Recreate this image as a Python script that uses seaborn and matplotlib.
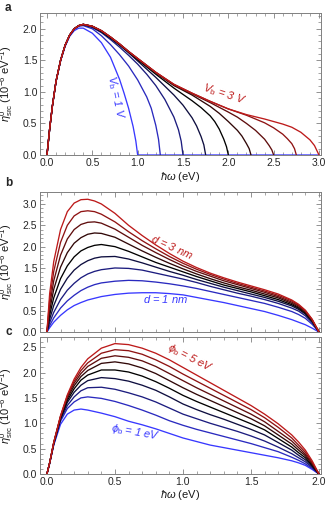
import matplotlib
matplotlib.use("Agg")
import matplotlib.pyplot as plt
import seaborn as sns
from matplotlib.ticker import MultipleLocator
from matplotlib.colors import LinearSegmentedColormap

# ---------------- panel a : bias voltage V_b ----------------
vb_values = [1.0, 1.25, 1.5, 1.75, 2.0, 2.25, 2.5, 2.75, 3.0]

a_x_100 = [0, 0.03, 0.06, 0.1, 0.15, 0.2, 0.25, 0.3, 0.35, 0.4, 0.5, 0.6, 0.7, 0.8, 0.85, 0.9, 0.95, 0.98, 1.0, 3.0]
a_y_100 = [0, 0.42, 0.78, 1.16, 1.49, 1.72, 1.88, 1.97, 2.01, 2.01, 1.93, 1.78, 1.55, 1.2, 0.98, 0.74, 0.45, 0.22, 0, 0]

a_x_125 = [0, 0.03, 0.06, 0.1, 0.15, 0.2, 0.25, 0.3, 0.35, 0.4, 0.5, 0.6, 0.7, 0.8, 0.9, 1.0, 1.1, 1.15, 1.2, 1.23, 1.25]
a_y_125 = [0, 0.42, 0.78, 1.17, 1.5, 1.73, 1.89, 1.99, 2.04, 2.05, 2.0, 1.89, 1.75, 1.59, 1.41, 1.19, 0.92, 0.74, 0.47, 0.25, 0]

a_x_150 = [0, 0.03, 0.06, 0.1, 0.15, 0.2, 0.25, 0.3, 0.35, 0.4, 0.5, 0.6, 0.7, 0.8, 0.9, 1.0, 1.1, 1.2, 1.3, 1.4, 1.45, 1.48, 1.5]
a_y_150 = [0, 0.42, 0.78, 1.17, 1.5, 1.74, 1.9, 2.0, 2.05, 2.06, 2.02, 1.94, 1.83, 1.71, 1.58, 1.44, 1.28, 1.1, 0.88, 0.6, 0.4, 0.22, 0]

a_x_175 = [0, 0.03, 0.06, 0.1, 0.15, 0.2, 0.25, 0.3, 0.35, 0.4, 0.5, 0.6, 0.7, 0.8, 0.9, 1.0, 1.1, 1.2, 1.3, 1.4, 1.5, 1.6, 1.65, 1.7, 1.73, 1.75]
a_y_175 = [0, 0.42, 0.78, 1.17, 1.5, 1.74, 1.9, 2.0, 2.05, 2.07, 2.03, 1.95, 1.85, 1.74, 1.62, 1.49, 1.36, 1.23, 1.09, 0.95, 0.79, 0.59, 0.46, 0.29, 0.16, 0]

a_x_200 = [0, 0.03, 0.06, 0.1, 0.15, 0.2, 0.25, 0.3, 0.35, 0.4, 0.5, 0.6, 0.7, 0.8, 0.9, 1.0, 1.2, 1.4, 1.5, 1.6, 1.7, 1.8, 1.85, 1.9, 1.95, 1.98, 2.0]
a_y_200 = [0, 0.42, 0.78, 1.17, 1.5, 1.74, 1.9, 2.0, 2.05, 2.07, 2.04, 1.96, 1.86, 1.75, 1.63, 1.51, 1.28, 1.06, 0.96, 0.86, 0.75, 0.62, 0.53, 0.41, 0.25, 0.13, 0]

a_x_225 = [0, 0.03, 0.06, 0.1, 0.15, 0.2, 0.25, 0.3, 0.35, 0.4, 0.5, 0.6, 0.7, 0.8, 0.9, 1.0, 1.2, 1.4, 1.6, 1.8, 1.9, 2.0, 2.1, 2.15, 2.2, 2.23, 2.25]
a_y_225 = [0, 0.42, 0.78, 1.17, 1.5, 1.74, 1.9, 2.0, 2.05, 2.07, 2.04, 1.97, 1.87, 1.76, 1.64, 1.52, 1.3, 1.1, 0.95, 0.77, 0.66, 0.53, 0.39, 0.3, 0.18, 0.1, 0]

a_x_250 = [0, 0.03, 0.06, 0.1, 0.15, 0.2, 0.25, 0.3, 0.35, 0.4, 0.5, 0.6, 0.7, 0.8, 0.9, 1.0, 1.2, 1.4, 1.6, 1.8, 2.0, 2.1, 2.2, 2.3, 2.4, 2.45, 2.48, 2.5]
a_y_250 = [0, 0.42, 0.78, 1.17, 1.5, 1.74, 1.9, 2.0, 2.05, 2.07, 2.04, 1.97, 1.87, 1.76, 1.64, 1.53, 1.31, 1.11, 0.97, 0.83, 0.68, 0.6, 0.5, 0.39, 0.25, 0.15, 0.08, 0]

a_x_275 = [0, 0.03, 0.06, 0.1, 0.15, 0.2, 0.25, 0.3, 0.35, 0.4, 0.5, 0.6, 0.7, 0.8, 0.9, 1.0, 1.2, 1.4, 1.6, 1.8, 2.0, 2.2, 2.4, 2.5, 2.6, 2.65, 2.7, 2.73, 2.75]
a_y_275 = [0, 0.42, 0.78, 1.17, 1.5, 1.74, 1.9, 2.0, 2.05, 2.07, 2.04, 1.97, 1.87, 1.76, 1.64, 1.53, 1.31, 1.12, 0.98, 0.85, 0.73, 0.63, 0.51, 0.43, 0.33, 0.26, 0.18, 0.1, 0]

a_x_300 = [0, 0.03, 0.06, 0.1, 0.15, 0.2, 0.25, 0.3, 0.35, 0.4, 0.5, 0.6, 0.7, 0.8, 0.9, 1.0, 1.2, 1.4, 1.6, 1.8, 2.0, 2.2, 2.4, 2.6, 2.7, 2.8, 2.9, 2.95, 3.0]
a_y_300 = [0, 0.42, 0.78, 1.17, 1.5, 1.74, 1.9, 2.0, 2.05, 2.07, 2.04, 1.97, 1.87, 1.76, 1.64, 1.53, 1.31, 1.12, 0.98, 0.85, 0.73, 0.64, 0.57, 0.49, 0.44, 0.36, 0.24, 0.15, 0]

# ---------------- panel b : barrier thickness d ----------------
d_values = [1.0, 1.25, 1.5, 1.75, 2.0, 2.25, 2.5, 2.75, 3.0]
b_x = [0, 0.02, 0.05, 0.1, 0.15, 0.2, 0.25, 0.3, 0.35, 0.4, 0.5, 0.6, 0.7, 0.8, 0.9, 1.0,
       1.1, 1.2, 1.3, 1.4, 1.5, 1.6, 1.7, 1.8, 1.85, 1.9, 1.95, 2.0]
b_y_100 = [0, 0.1, 0.23, 0.39, 0.52, 0.62, 0.69, 0.75, 0.79, 0.83, 0.88, 0.91, 0.92, 0.92, 0.9, 0.87,
           0.81, 0.75, 0.69, 0.62, 0.55, 0.48, 0.39, 0.29, 0.23, 0.17, 0.09, 0]
b_y_125 = [0, 0.15, 0.33, 0.56, 0.73, 0.86, 0.97, 1.05, 1.11, 1.15, 1.19, 1.21, 1.2, 1.17, 1.13, 1.08,
           1.02, 0.95, 0.88, 0.81, 0.74, 0.67, 0.58, 0.48, 0.41, 0.32, 0.18, 0]
b_y_150 = [0, 0.22, 0.46, 0.76, 0.98, 1.14, 1.27, 1.36, 1.42, 1.46, 1.5, 1.49, 1.45, 1.38, 1.31, 1.24,
           1.16, 1.07, 0.99, 0.91, 0.84, 0.76, 0.67, 0.56, 0.49, 0.38, 0.22, 0]
b_y_175 = [0, 0.3, 0.62, 1.0, 1.26, 1.45, 1.58, 1.67, 1.73, 1.76, 1.77, 1.71, 1.62, 1.52, 1.42, 1.33,
           1.23, 1.14, 1.05, 0.97, 0.89, 0.81, 0.72, 0.61, 0.53, 0.42, 0.24, 0]
b_y_200 = [0, 0.4, 0.8, 1.25, 1.55, 1.76, 1.9, 1.98, 2.03, 2.05, 2.0, 1.89, 1.76, 1.63, 1.52, 1.41,
           1.3, 1.2, 1.1, 1.02, 0.94, 0.85, 0.76, 0.64, 0.56, 0.44, 0.26, 0]
b_y_225 = [0, 0.5, 1.0, 1.52, 1.86, 2.08, 2.21, 2.29, 2.32, 2.31, 2.22, 2.06, 1.9, 1.75, 1.61, 1.48,
           1.36, 1.25, 1.15, 1.06, 0.98, 0.89, 0.8, 0.67, 0.58, 0.46, 0.27, 0]
b_y_250 = [0, 0.62, 1.2, 1.8, 2.18, 2.4, 2.52, 2.57, 2.58, 2.55, 2.41, 2.22, 2.03, 1.86, 1.7, 1.55,
           1.42, 1.31, 1.2, 1.11, 1.02, 0.93, 0.83, 0.7, 0.61, 0.48, 0.28, 0]
b_y_275 = [0, 0.75, 1.42, 2.1, 2.5, 2.72, 2.82, 2.84, 2.82, 2.76, 2.58, 2.35, 2.14, 1.95, 1.77, 1.61,
           1.47, 1.35, 1.24, 1.14, 1.05, 0.96, 0.86, 0.73, 0.63, 0.5, 0.29, 0]
b_y_300 = [0, 0.9, 1.65, 2.4, 2.82, 3.02, 3.1, 3.11, 3.07, 3.0, 2.78, 2.5, 2.26, 2.04, 1.84, 1.66,
           1.51, 1.38, 1.27, 1.17, 1.08, 0.99, 0.89, 0.75, 0.65, 0.51, 0.3, 0]

# ---------------- panel c : barrier height phi_b ----------------
phi_values = [1.0, 1.5, 2.0, 2.5, 3.0, 3.5, 4.0, 4.5, 5.0]
c_x = [0, 0.02, 0.05, 0.1, 0.15, 0.2, 0.25, 0.3, 0.4, 0.5, 0.6, 0.7, 0.8, 0.9, 1.0,
       1.1, 1.2, 1.3, 1.4, 1.5, 1.6, 1.7, 1.8, 1.85, 1.9, 1.95, 2.0]
c_y_10 = [0, 0.21, 0.57, 0.98, 1.18, 1.26, 1.28, 1.26, 1.2, 1.13, 1.04, 0.97, 0.89, 0.8, 0.71,
          0.64, 0.57, 0.52, 0.47, 0.42, 0.37, 0.32, 0.26, 0.22, 0.17, 0.09, 0]
c_y_15 = [0, 0.21, 0.58, 1.04, 1.29, 1.42, 1.5, 1.52, 1.49, 1.43, 1.35, 1.26, 1.16, 1.05, 0.96,
          0.88, 0.81, 0.74, 0.67, 0.6, 0.52, 0.44, 0.33, 0.27, 0.2, 0.11, 0]
c_y_20 = [0, 0.21, 0.59, 1.07, 1.35, 1.52, 1.64, 1.7, 1.71, 1.67, 1.6, 1.52, 1.42, 1.3, 1.18,
          1.09, 1.0, 0.92, 0.84, 0.75, 0.65, 0.53, 0.4, 0.32, 0.24, 0.13, 0]
c_y_25 = [0, 0.22, 0.6, 1.09, 1.41, 1.61, 1.75, 1.84, 1.9, 1.88, 1.83, 1.75, 1.65, 1.52, 1.38,
          1.27, 1.17, 1.08, 0.98, 0.88, 0.77, 0.62, 0.47, 0.37, 0.28, 0.15, 0]
c_y_30 = [0, 0.22, 0.61, 1.1, 1.45, 1.68, 1.85, 1.95, 2.05, 2.05, 2.01, 1.93, 1.82, 1.69, 1.55,
          1.43, 1.32, 1.21, 1.1, 0.99, 0.87, 0.7, 0.53, 0.42, 0.32, 0.17, 0]
c_y_35 = [0, 0.22, 0.61, 1.12, 1.49, 1.74, 1.92, 2.04, 2.18, 2.21, 2.17, 2.09, 1.98, 1.84, 1.7,
          1.57, 1.45, 1.33, 1.21, 1.09, 0.95, 0.77, 0.59, 0.47, 0.36, 0.19, 0]
c_y_40 = [0, 0.22, 0.62, 1.13, 1.52, 1.79, 1.98, 2.12, 2.28, 2.33, 2.3, 2.23, 2.12, 1.98, 1.84,
          1.7, 1.57, 1.44, 1.31, 1.18, 1.03, 0.84, 0.65, 0.52, 0.39, 0.21, 0]
c_y_45 = [0, 0.22, 0.62, 1.14, 1.54, 1.83, 2.04, 2.19, 2.38, 2.45, 2.43, 2.36, 2.25, 2.12, 1.97,
          1.83, 1.69, 1.55, 1.41, 1.27, 1.11, 0.92, 0.71, 0.57, 0.43, 0.23, 0]
c_y_50 = [0, 0.22, 0.62, 1.15, 1.56, 1.87, 2.1, 2.27, 2.48, 2.57, 2.55, 2.48, 2.38, 2.25, 2.1,
          1.95, 1.8, 1.65, 1.5, 1.35, 1.18, 0.99, 0.77, 0.63, 0.47, 0.26, 0]

# ---------------- style ----------------
sns.set_theme(style="ticks")
plt.rcParams['font.family'] = ['Liberation Sans', 'DejaVu Sans']
plt.rcParams['mathtext.fontset'] = 'custom'
plt.rcParams['mathtext.rm'] = 'Liberation Sans'
plt.rcParams['mathtext.it'] = 'Liberation Sans:italic'
plt.rcParams['mathtext.bf'] = 'Liberation Sans:bold'

BLUE = (0.22, 0.22, 1.0)
RED = (0.74, 0.1, 0.1)
cmap = LinearSegmentedColormap.from_list("bkr", [BLUE, (0, 0, 0), RED])
colors = [cmap(i / 8) for i in range(9)]

fig = plt.figure(figsize=(3.28, 5.05), dpi=100)
W, H = 328, 505
def add_ax(top, bottom):
    return fig.add_axes([40 / W, (H - bottom) / H, 281 / W, (bottom - top) / H])

ax_a = add_ax(13, 155)
ax_b = add_ax(192, 332)
ax_c = add_ax(337, 474)

# panel a
a_curves = [(a_x_100, a_y_100), (a_x_125, a_y_125), (a_x_150, a_y_150), (a_x_175, a_y_175),
            (a_x_200, a_y_200), (a_x_225, a_y_225), (a_x_250, a_y_250), (a_x_275, a_y_275),
            (a_x_300, a_y_300)]
for (xs, ys), col in zip(a_curves, colors):
    sns.lineplot(x=xs, y=ys, ax=ax_a, color=col, lw=0.95, sort=False, estimator=None)

# panel b
for ys, col in zip([b_y_100, b_y_125, b_y_150, b_y_175, b_y_200, b_y_225, b_y_250, b_y_275, b_y_300], colors):
    sns.lineplot(x=b_x, y=ys, ax=ax_b, color=col, lw=0.95, sort=False, estimator=None)

# panel c
for ys, col in zip([c_y_10, c_y_15, c_y_20, c_y_25, c_y_30, c_y_35, c_y_40, c_y_45, c_y_50], colors):
    sns.lineplot(x=c_x, y=ys, ax=ax_c, color=col, lw=0.95, sort=False, estimator=None)

ax_a.set_xlim(-0.077, 3.022)
ax_a.set_ylim(0, 2.25)
ax_b.set_xlim(-0.051, 2.015)
ax_b.set_ylim(0, 3.28)
ax_c.set_xlim(-0.051, 2.015)
ax_c.set_ylim(0, 2.7)

ylab = r"$\eta^{0}_{\rm src}$ (10$^{-6}$ eV$^{-1}$)"
for ax in (ax_a, ax_b, ax_c):
    ax.xaxis.set_major_locator(MultipleLocator(0.5))
    ax.xaxis.set_minor_locator(MultipleLocator(0.1))
    ax.yaxis.set_major_locator(MultipleLocator(0.5))
    ax.yaxis.set_minor_locator(MultipleLocator(0.1))
    ax.tick_params(which='both', direction='in', top=True, right=True, color='#808080',
                   labelsize=7.5, labelcolor='#262626', pad=2)
    ax.tick_params(which='major', length=3.5, width=0.6)
    ax.tick_params(which='minor', length=2, width=0.5)
    for s in ax.spines.values():
        s.set_color('#808080')
        s.set_linewidth(0.7)
    ax.yaxis.set_major_formatter(plt.FormatStrFormatter('%.1f'))
    ax.xaxis.set_major_formatter(plt.FormatStrFormatter('%.1f'))
    ax.set_ylabel(ylab, fontsize=8, color='#1a1a1a')
    ax.yaxis.set_label_coords(-0.088, 0.5)
    ax.set_xlabel("")

ax_b.tick_params(labelbottom=False)
for ax in (ax_a, ax_c):
    ax.set_xlabel(r"$\hbar\omega$ (eV)", fontsize=8, color='#1a1a1a')
    ax.xaxis.set_label_coords(0.5, -0.105)

# curve labels
kw = dict(fontsize=8, style='italic', ha='center', va='center', rotation_mode='anchor')
ax_a.text(0.75, 0.92, r"$V_{\rm b}$ = 1 V", color=BLUE, rotation=-78, **kw)
ax_a.text(1.95, 0.97, r"$V_{\rm b}$ = 3 V", color=RED, rotation=-18, **kw)
ax_b.text(0.92, 1.99, r"$d$ = 3 nm", color=RED, rotation=-24, **kw)
ax_b.text(0.87, 0.77, r"$d$ = 1 nm", color=BLUE, rotation=0, **kw)
ax_c.text(1.05, 2.28, r"$\phi_{\rm b}$ = 5 eV", color=RED, rotation=-27, **kw)
ax_c.text(0.65, 0.83, r"$\phi_{\rm b}$ = 1 eV", color=BLUE, rotation=-10, **kw)

# panel letters
for lab, ypx in (("a", 8), ("b", 183), ("c", 332)):
    fig.text(5 / W, 1 - ypx / H, lab, fontsize=8.5, fontweight='bold', va='center', ha='left')

fig.savefig("out.png", dpi=100)
